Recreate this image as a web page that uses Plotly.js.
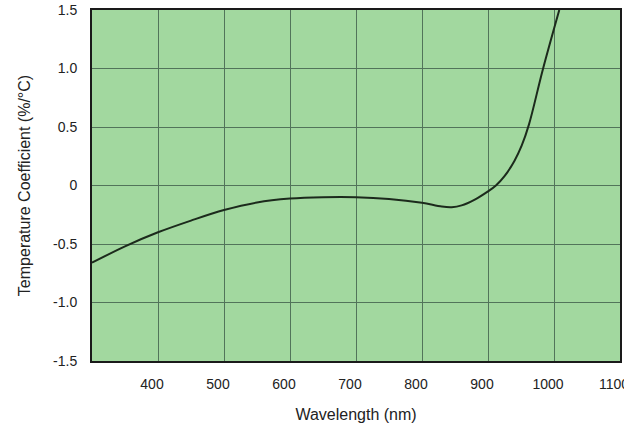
<!DOCTYPE html>
<html>
<head>
<meta charset="utf-8">
<script src="https://cdn.plot.ly/plotly-3.0.1.min.js"></script>
<style>html,body{margin:0;padding:0;background:#fff;}#chart{width:624px;height:426px;}</style>
</head>
<body>
<div id="chart"></div>
<script>
// Wavelength (nm)
var wavelength = [300, 350, 400, 450, 500, 550, 600, 650, 700, 750, 800, 830, 845, 860, 880, 900, 912, 925, 940, 951, 962, 983, 1008];
// Temperature coefficient (%/°C)
var tempCoeff = [-0.66, -0.52, -0.40, -0.30, -0.21, -0.145, -0.112, -0.10, -0.10, -0.115, -0.148, -0.18, -0.185, -0.17, -0.12, -0.05, 0.0, 0.08, 0.21, 0.34, 0.52, 0.99, 1.5];

var xTickVals = [400, 500, 600, 700, 800, 900, 1000, 1100];
var xTickText = ["400", "500", "600", "700", "800", "900", "1000", "1100"];
var yTickVals = [-1.5, -1.0, -0.5, 0, 0.5, 1.0, 1.5];
var yTickText = ["-1.5", "-1.0", "-0.5", "0", "0.5", "1.0", "1.5"];

var trace = {
  x: wavelength,
  y: tempCoeff,
  type: 'scatter',
  mode: 'lines',
  line: {color: '#1c2a1c', width: 2, shape: 'spline', smoothing: 1.0},
  hoverinfo: 'x+y'
};

var font = "'Liberation Sans', Arial, Helvetica, sans-serif";

var layout = {
  width: 624,
  height: 426,
  margin: {l: 92, r: 4, t: 10, b: 65},
  paper_bgcolor: '#ffffff',
  plot_bgcolor: '#a2d89f',
  showlegend: false,
  font: {family: font, color: '#222222', size: 14},
  xaxis: {
    range: [300, 1100],
    tickmode: 'array',
    tickvals: xTickVals,
    ticktext: xTickText,
    ticks: '',
    ticklabelshift: -6,
    ticklabelstandoff: 9,
    ticklabeloverflow: 'allow',
    tickfont: {family: font, size: 14, color: '#222222'},
    showgrid: true,
    gridcolor: '#52745a',
    gridwidth: 1,
    zeroline: false,
    showline: true,
    mirror: true,
    linecolor: '#1a1a1a',
    linewidth: 2,
    title: {text: 'Wavelength (nm)', font: {family: font, size: 16, color: '#222222'}, standoff: 18}
  },
  yaxis: {
    range: [-1.5, 1.5],
    tickmode: 'array',
    tickvals: yTickVals,
    ticktext: yTickText,
    ticks: '',
    ticklabelstandoff: 10,
    tickfont: {family: font, size: 14, color: '#222222'},
    showgrid: true,
    gridcolor: '#52745a',
    gridwidth: 1,
    zeroline: false,
    showline: true,
    mirror: true,
    linecolor: '#1a1a1a',
    linewidth: 2,
    title: {text: 'Temperature Coefficient (%/°C)', font: {family: font, size: 16, color: '#222222'}, standoff: 18}
  }
};

Plotly.newPlot('chart', [trace], layout, {displayModeBar: false, staticPlot: true});
</script>
</body>
</html>
